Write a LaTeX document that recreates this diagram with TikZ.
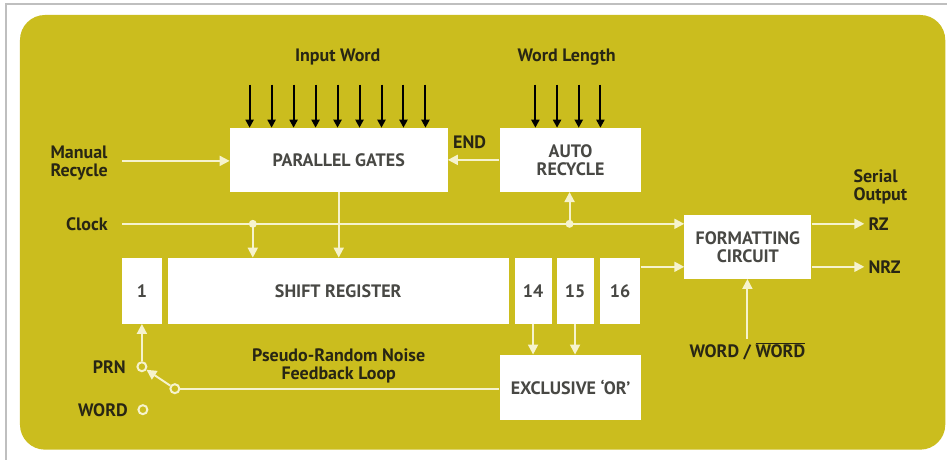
\documentclass[tikz,border=0pt]{standalone}
\usepackage{fontspec}
\setmainfont{PT Sans}
\usetikzlibrary{arrows.meta}
\definecolor{fondo}{RGB}{203,189,30}
\definecolor{linea}{RGB}{246,243,205}
\definecolor{texto}{RGB}{40,38,20}
\definecolor{textobloque}{RGB}{72,72,68}
\begin{document}
\begin{tikzpicture}[x=1pt, y=-1pt,
    every node/.style={font=\bfseries\fontsize{18}{18}\selectfont, text=texto, inner sep=0pt},
    bloque/.style={fill=white, text=textobloque, minimum height=64pt, align=center},
    celda/.style={bloque, minimum height=66pt},
    conexion/.style={draw=linea, line width=2pt},
    senal/.style={conexion, -{Triangle[length=10pt,width=10pt]}},
    entrada/.style={draw=black, line width=2pt, -{Triangle[length=8pt,width=8pt]}},
    punto/.style={circle, fill=linea, minimum size=8pt},
    contacto/.style={circle, draw=linea, line width=2pt, fill=fondo, minimum size=9pt}]
    % Fondo
    \fill[white] (0,0) rectangle (948,460);
    \draw[black!25, line width=1.5pt] (6,460) -- (6,4) -- (948,4);
    \fill[fondo, rounded corners=25pt] (20,15) rectangle (946,450);

    % Bloques
    \node[bloque, minimum width=218pt] (pg) at (339,160) {PARALLEL GATES};
    \node[bloque, minimum width=142pt] (ar) at (571,160) {AUTO\\RECYCLE};
    \node[celda, minimum width=40pt] (c1) at (142,291) {1};
    \node[celda, minimum width=341pt] (sr) at (338.5,291) {SHIFT REGISTER};
    \node[celda, minimum width=37pt] (c14) at (533.5,291) {14};
    \node[celda, minimum width=37pt] (c15) at (575.5,291) {15};
    \node[celda, minimum width=41pt] (c16) at (620.5,291) {16};
    \node[bloque, minimum width=127pt] (fc) at (748.5,247) {FORMATTING\\CIRCUIT};
    \node[bloque, minimum width=142pt, minimum height=65pt] (xo) at (571,387.5) {EXCLUSIVE `OR'};

    % Etiquetas
    \node (iw) at (338,57) {Input Word};
    \node (wl) at (567,57) {Word Length};
    \node[anchor=east, align=left] (mr) at (108,163) {Manual\\Recycle};
    \node[anchor=east] (ck) at (108,224) {Clock};
    \node (fin) at (470,142) {END};
    \node[anchor=west, align=left] (so) at (854,187) {Serial\\Output};
    \node[anchor=west] (rz) at (869,224) {RZ};
    \node[anchor=west] (nrz) at (869,267) {NRZ};
    \node[align=center] (prnl) at (339,366) {Pseudo-Random Noise\\Feedback Loop};
    \node[anchor=east] (prnt) at (126,367) {PRN};
    \node[anchor=east] (wdt) at (128,411) {WORD};
    \node (wd) at (748,352) {WORD / $\overline{\mbox{WORD}}$};

    % Entradas paralelas
    \foreach \i in {0,...,8}
        \draw[entrada] ([xshift={20+22*\i},yshift=43]pg.north west) -- ([xshift={20+22*\i}]pg.north west);
    \foreach \i in {0,...,3}
        \draw[entrada] ([xshift={36+21.7*\i},yshift=43]ar.north west) -- ([xshift={36+21.7*\i}]ar.north west);

    % Reloj y reciclado
    \coordinate (mr0) at (122,161);
    \coordinate (ck0) at (122,224);
    \draw[senal] (mr0) -- (mr0 -| pg.west);
    \draw[senal] (ar.west) -- (pg.east);
    \draw[senal] (ck0) -- (ck0 -| fc.west);
    \node[punto] (d1) at (253,224) {};
    \node[punto] (d2) at (570,224) {};
    \draw[senal] (d1.center) -- (d1 |- sr.north);
    \draw[senal] (d2.center) -- (d2 |- ar.south);
    \draw[senal] (pg.south) -- (pg.south |- sr.north);

    % Salidas
    \coordinate (o16) at ([yshift=24pt]c16.east);
    \draw[senal] (o16) -- (o16 -| fc.west);
    \draw[senal] (rz.west -| fc.east) -- ([xshift=-4pt]rz.west);
    \draw[senal] (nrz.west -| fc.east) -- ([xshift=-4pt]nrz.west);
    \draw[senal] ([yshift=4pt]wd.north) -- (wd.north |- fc.south);

    % Realimentacion
    \draw[senal] (c14.south) -- (c14.south |- xo.north);
    \draw[senal] (c15.south) -- (c15.south |- xo.north);
    \node[contacto] (prn) at (142,367) {};
    \node[contacto] (sw) at (175,389) {};
    \node[contacto] (wrd) at (143,410) {};
    \draw[conexion] (sw.east) -- (sw.east -| xo.west);
    \draw[senal] (sw) -- (prn);
    \draw[senal] (prn.north) -- (c1.south);
\end{tikzpicture}
\end{document}
